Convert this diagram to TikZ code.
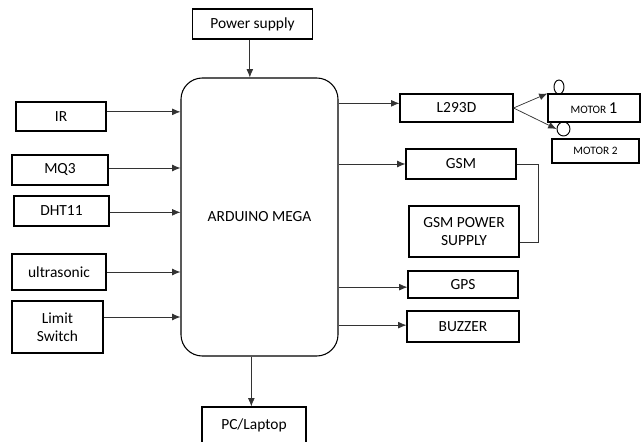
\documentclass[tikz,border=0pt]{standalone}
\usepackage{fontspec}
\setmainfont{Carlito}
\usetikzlibrary{shapes.geometric,arrows.meta,positioning}
\definecolor{wire}{HTML}{333333}

\begin{document}
\begin{tikzpicture}[x=0.75pt,y=-0.75pt,font=\fontsize{11.6}{13.5}\selectfont,
      b/.style={rectangle,draw,line width=0.8pt,inner sep=0pt,align=center},
      ctl/.style={b,rounded corners=16pt},
      small/.style={font=\fontsize{8.5}{10}\selectfont},
      ring/.style={ellipse,draw,line width=0.7pt,inner sep=0pt},
      a/.style={-{Latex[length=2.2mm,width=1.8mm]},wire,line width=0.55pt}]
      \useasboundingbox (0,0) rectangle (643,442);
      % controller and supply
      \node[ctl,minimum width=117.75pt,minimum height=208.5pt] (ard) at (259.5,217) {ARDUINO MEGA};
      \node[b,minimum width=90pt,minimum height=22.5pt]   (pwr) at (252.5,24)  {Power supply};
      \node[b,minimum width=78pt,minimum height=27pt]     (pc)  at (254,425)   {PC/Laptop};
      % sensors
      \node[b,minimum width=67.5pt,minimum height=21.75pt] (ir)  at (61,116.5) {IR};
      \node[b,minimum width=72pt,minimum height=22.5pt]    (mq)  at (60,170)   {MQ3};
      \node[b,minimum width=71.25pt,minimum height=22.5pt] (dht) at (61.5,211) {DHT11};
      \node[b,minimum width=70.5pt,minimum height=27pt]    (us)  at (59,272)   {ultrasonic};
      \node[b,minimum width=68.25pt,minimum height=39pt]   (lim) at (57.5,327) {Limit\\Switch};
      % outputs
      \node[b,minimum width=84.75pt,minimum height=21pt]   (drv)   at (456.5,108) {L293D};
      \node[b,small,minimum width=69pt,minimum height=21pt]    (m1) at (594,108)   {MOTOR {\fontsize{12.5}{14}\selectfont 1}};
      \node[b,small,minimum width=65.25pt,minimum height=18pt] (m2) at (595.5,151) {MOTOR 2};
      \node[ring,minimum width=7.5pt,minimum height=10.5pt] (r1) at (559,87)    {};
      \node[ring,minimum width=9.75pt,minimum height=10.5pt] (r2) at (563.5,129) {};
      \node[b,minimum width=82.5pt,minimum height=22.5pt]  (gsm)   at (461,164)   {GSM};
      \node[b,minimum width=82.5pt,minimum height=38.25pt] (gsmps) at (464,231.5) {GSM POWER\\SUPPLY};
      \node[b,minimum width=82.5pt,minimum height=20.25pt] (gps)   at (463,284.5) {GPS};
      \node[b,minimum width=84pt,minimum height=23.25pt]   (buz)   at (463,326.5) {BUZZER};
      % connectors
      \draw[a] ([xshift=-2pt]pwr.south) -- ([xshift=-2pt]pwr.south |- ard.north);
      \draw[a] ([xshift=-2pt]pc.north |- ard.south) -- ([xshift=-2pt]pc.north);
      \foreach \s/\dy in {ir/3.5pt,mq/1.5pt,dht/-1pt,us/0pt,lim/7.5pt}
        \draw[a] ([yshift=\dy]\s.east) -- ([yshift=\dy]\s.east -| ard.west);
      \foreach \t/\dy in {drv/3.5pt,gsm/0pt,gps/-2pt,buz/1pt}
        \draw[a] ([yshift=\dy]\t.west -| ard.east) -- ([yshift=\dy]\t.west);
      \draw[a] (drv.east) -- (m1.north west);
      \draw[a] (drv.east) -- (r2.west);
      \draw[wire,line width=0.5pt] (gsm.east) -- ++(22,0) |- ([yshift=-8.5pt]gsmps.east);
    \end{tikzpicture}
\end{document}
